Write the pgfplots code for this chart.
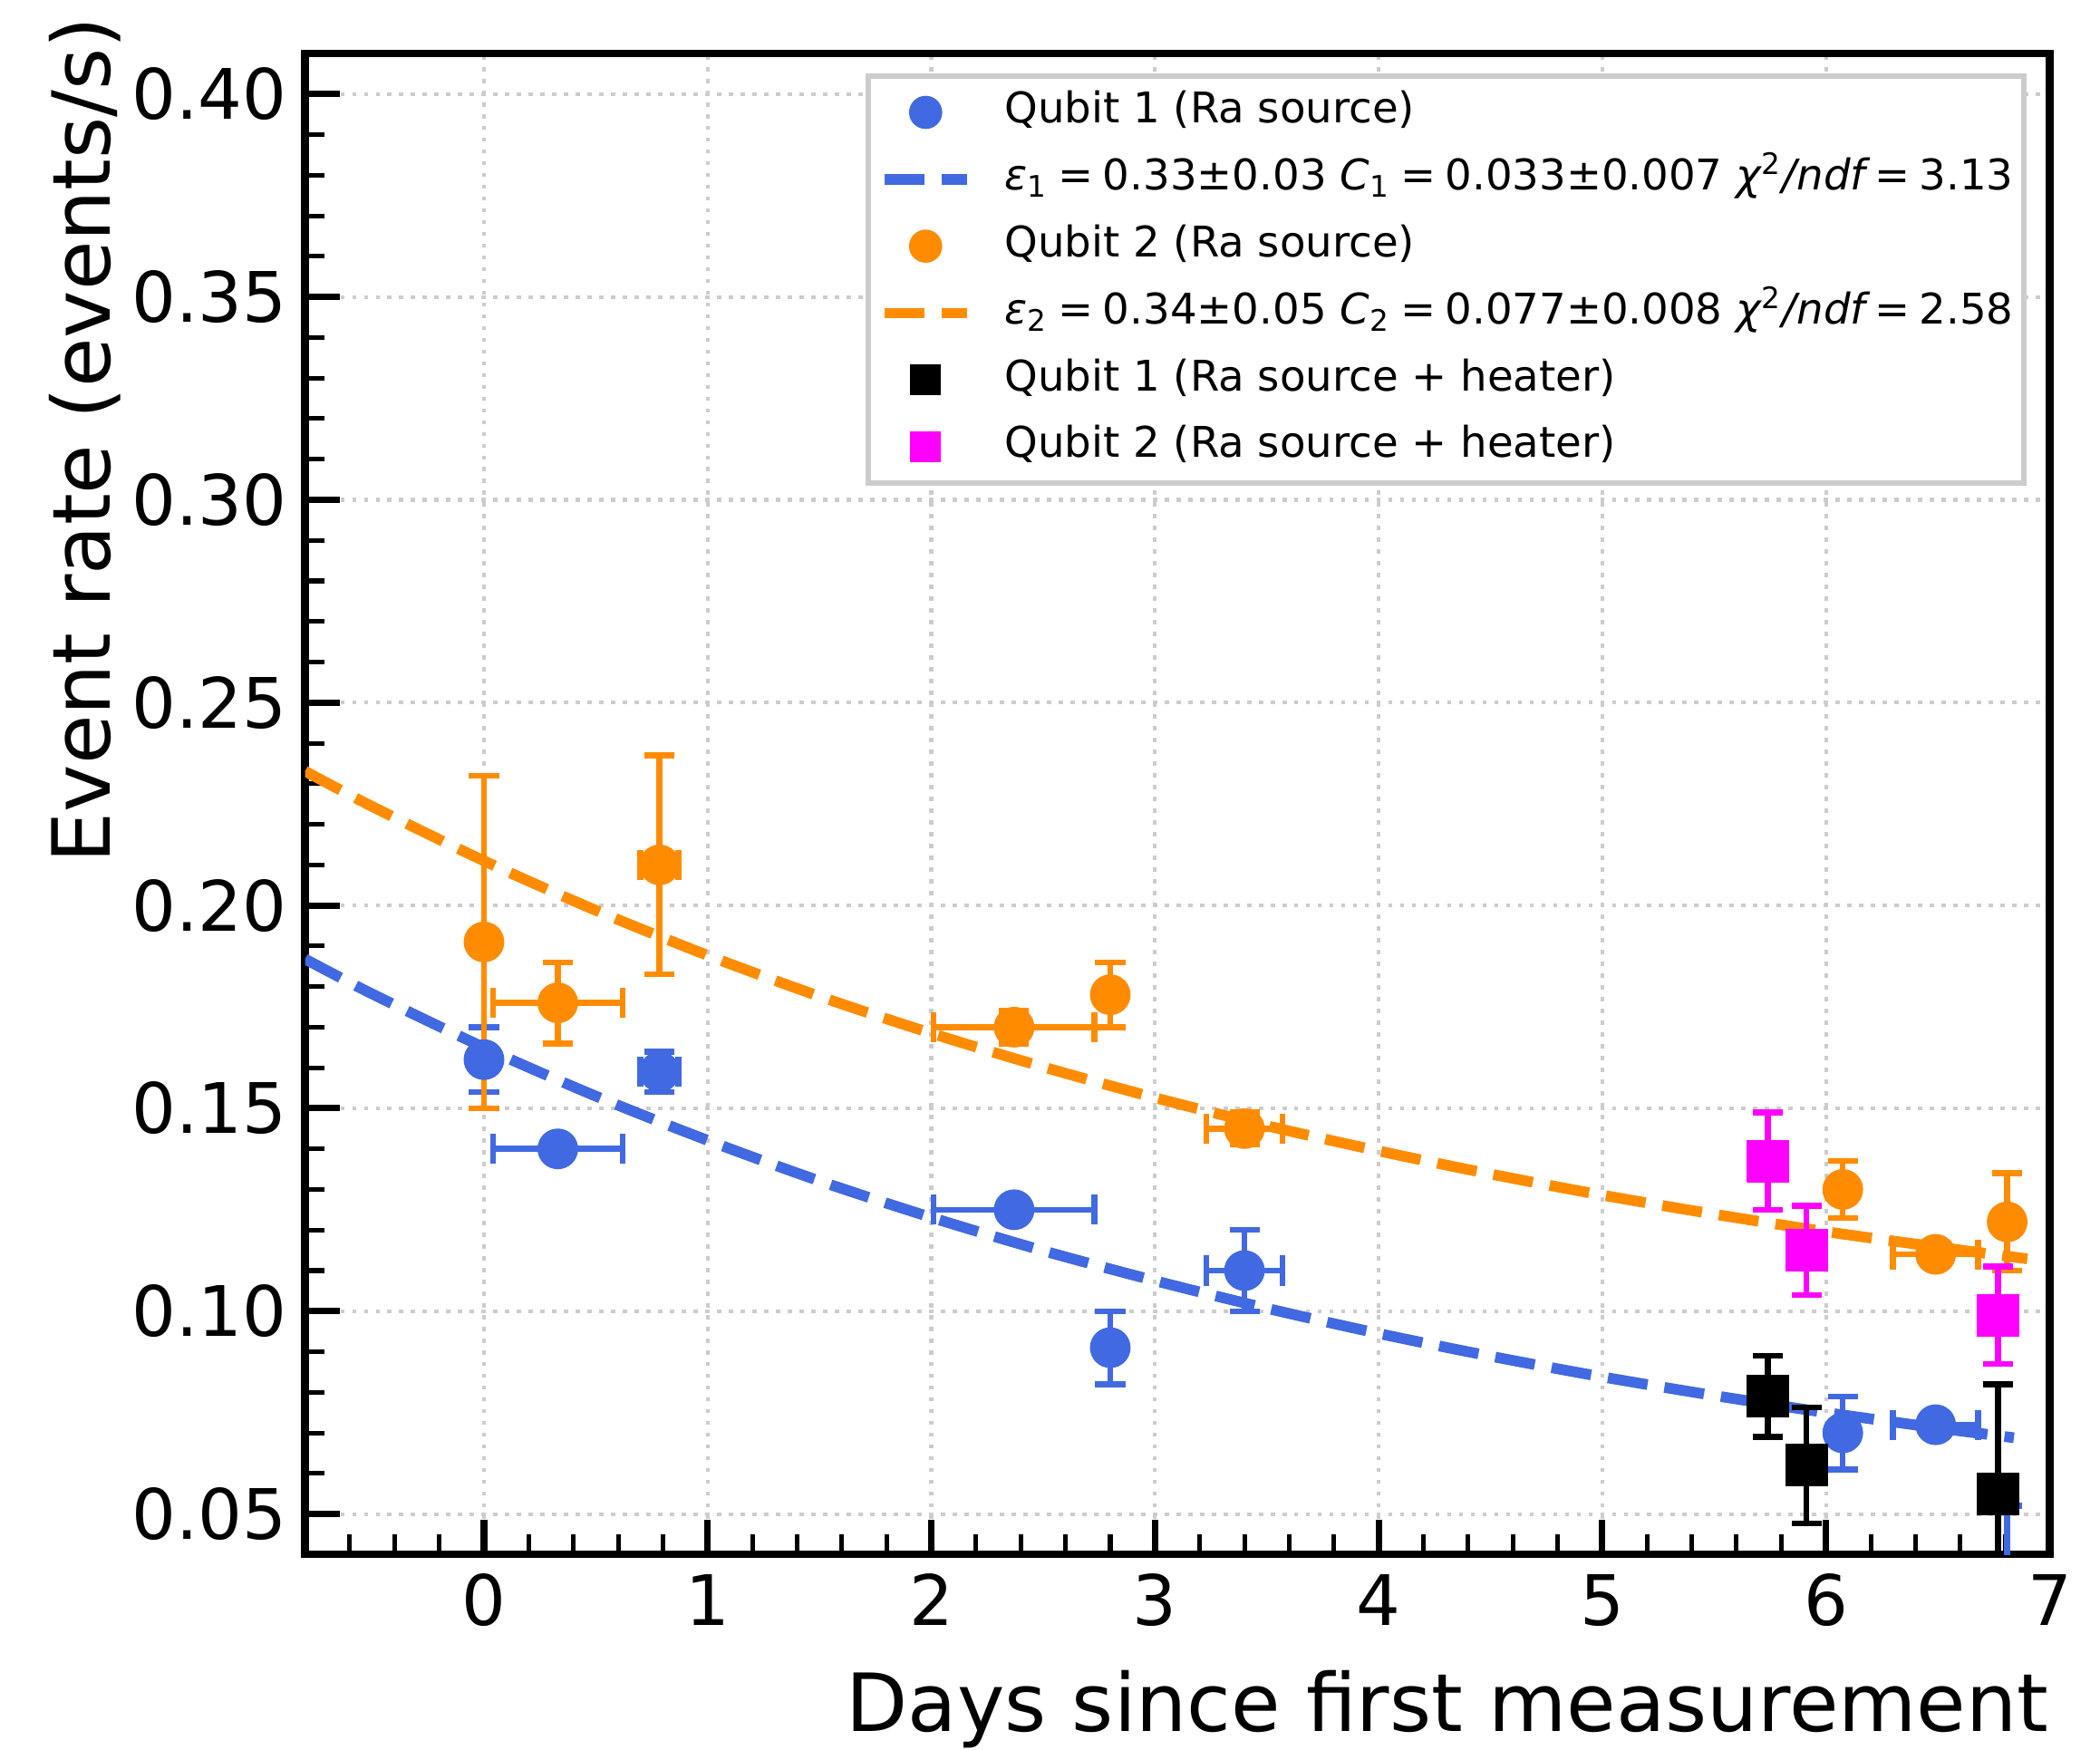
\documentclass[border=0pt]{standalone}
\usepackage{fontspec}
\setmainfont{DejaVu Sans}
\usepackage{pgfplots}
\usepackage{pgfplotstable}
\pgfplotsset{compat=1.18}

\definecolor{qblue}{HTML}{4169E1}
\definecolor{qorange}{HTML}{FF8C00}
\definecolor{qmag}{HTML}{FF00FF}

% qubit 1, Ra source
\pgfplotstableread{
x      ex     y      ey
0      0      0.162  0.008
0.33   0.29   0.140  0
0.785  0.085  0.159  0.005
2.37   0.36   0.125  0
2.80   0      0.091  0.009
3.40   0.17   0.110  0.010
6.075  0      0.070  0.009
6.49   0.19   0.072  0
6.81   0      0.030  0.022
}\qoneRa

% qubit 2, Ra source
\pgfplotstableread{
x      ex     y      ey
0      0      0.191  0.041
0.33   0.29   0.176  0.010
0.785  0.085  0.210  0.027
2.37   0.36   0.170  0.004
2.80   0      0.178  0.008
3.40   0.17   0.145  0.004
6.075  0      0.130  0.007
6.49   0.19   0.114  0
6.81   0      0.122  0.012
}\qtwoRa

% Ra source + heater
\pgfplotstableread{
x      y      ey
5.74   0.079  0.010
5.913  0.062  0.0143
6.77   0.055  0.027
}\qoneHeat

\pgfplotstableread{
x      y      ey
5.74   0.137  0.012
5.913  0.115  0.011
6.77   0.099  0.012
}\qtwoHeat

\newcommand{\eqs}{\hspace{0.22em}=\hspace{0.22em}}

\begin{document}
\begin{tikzpicture}
\begin{axis}[
  scale only axis,
  width=326pt, height=280.5pt,
  xmin=-0.8, xmax=7, ymin=0.04, ymax=0.41,
  xtick={0,1,2,3,4,5,6,7},
  ytick={0.05,0.1,0.15,0.2,0.25,0.3,0.35,0.4},
  minor xtick={-0.6,-0.4,...,6.8},
  minor ytick={0.04,0.05,...,0.41},
  scaled y ticks=false,
  tick align=inside, xtick pos=bottom, ytick pos=left,
  major tick length=6.5pt, minor tick length=3.7pt,
  major tick style={line width=1.2pt, black},
  minor tick style={line width=0.85pt, black},
  axis line style={line width=1.4pt},
  grid=major,
  major grid style={gray!40, line width=0.7pt, dash pattern=on 0.8pt off 1.4pt},
  /pgf/number format/assume math mode=true,
  ticklabel style={font=\fontsize{13}{15}\selectfont},
  xticklabel style={anchor=base, inner sep=0pt, yshift=-13.25pt},
  yticklabel style={anchor=east, inner sep=0pt, xshift=-3.25pt,
    /pgf/number format/fixed, /pgf/number format/fixed zerofill,
    /pgf/number format/precision=2},
  xlabel={Days since first measurement},
  ylabel={Event rate (events/s)},
  every axis x label/.style={at={([yshift=-33pt]rel axis cs:1,0)}, anchor=base east,
    inner sep=0pt, font=\fontsize{15}{18}\selectfont},
  every axis y label/.style={at={([xshift=-36.5pt]rel axis cs:0,1.025)}, rotate=90, anchor=base east,
    inner sep=0pt, font=\fontsize{15}{18}\selectfont},
  legend style={at={([xshift=-4.25pt,yshift=-3.75pt]rel axis cs:1,1)}, anchor=north east,
    draw=gray!40, line width=1pt, fill=white,
    inner xsep=2pt, inner ysep=2.75pt, row sep=4.5pt, column sep=6pt,
    font=\fontsize{7.9}{9.5}\selectfont,
    nodes={inner sep=0pt, text height=6pt, text depth=2pt}},
  legend cell align=left,
  legend image code/.code={
    \path (0pt,0pt) (15.5pt,0pt);
    \draw[mark repeat=2, mark phase=2, #1] plot coordinates {(0pt,0pt) (7.75pt,0pt) (15.5pt,0pt)};},
  error bars/error bar style={line width=1.1pt},
  error bars/error mark options={rotate=90, mark size=2.8pt, line width=1.1pt},
]

\addlegendimage{only marks, mark=*, qblue, mark size=2.9pt, mark options={line width=0.4pt}}
\addlegendentry{Qubit 1 (Ra source)}
\addlegendimage{qblue, line width=2pt, dash pattern=on 7.5pt off 3.2pt}
\addlegendentry{{\itshape ε}\textsubscript{1}\eqs 0.33±0.03 {\itshape C}\textsubscript{1}\eqs 0.033±0.007 {\itshape χ}\textsuperscript{2}{\itshape /ndf}\eqs 3.13}
\addlegendimage{only marks, mark=*, qorange, mark size=2.9pt, mark options={line width=0.4pt}}
\addlegendentry{Qubit 2 (Ra source)}
\addlegendimage{qorange, line width=2pt, dash pattern=on 7.5pt off 3.2pt}
\addlegendentry{{\itshape ε}\textsubscript{2}\eqs 0.34±0.05 {\itshape C}\textsubscript{2}\eqs 0.077±0.008 {\itshape χ}\textsuperscript{2}{\itshape /ndf}\eqs 2.58}
\addlegendimage{only marks, mark=square*, black, mark size=2.7pt, mark options={line width=0.4pt}}
\addlegendentry{Qubit 1 (Ra source + heater)}
\addlegendimage{only marks, mark=square*, qmag, mark size=2.7pt, mark options={line width=0.4pt}}
\addlegendentry{Qubit 2 (Ra source + heater)}

% fitted decay curves
\addplot[forget plot, qblue, line width=2pt, dash pattern=on 7.5pt off 3.2pt, smooth] coordinates {
 (-0.8,0.1868) (-0.5,0.1782) (0,0.1650) (0.5,0.1530) (1,0.1421) (1.5,0.1321)
 (2,0.1231) (2.5,0.1149) (3,0.1075) (3.5,0.1007) (4,0.0945) (4.5,0.0889)
 (5,0.0838) (5.5,0.0792) (6,0.0750) (6.5,0.0712) (6.84,0.0688)};
\addplot[forget plot, qorange, line width=2pt, dash pattern=on 7.5pt off 3.2pt, smooth] coordinates {
 (-0.8,0.2331) (-0.5,0.2244) (0,0.2110) (0.5,0.1988) (1,0.1877) (1.5,0.1776)
 (2,0.1685) (2.5,0.1602) (3,0.1526) (3.5,0.1457) (4,0.1395) (4.5,0.1338)
 (5,0.1286) (5.5,0.1239) (6,0.1196) (6.5,0.1158) (6.9,0.1129)};

% measurements
\addplot[forget plot, only marks, mark=*, qblue, mark size=3.6pt, mark options={line width=0.4pt},
  error bars/.cd, x dir=both, x explicit, y dir=both, y explicit]
  table[x=x, y=y, x error=ex, y error=ey] {\qoneRa};
\addplot[forget plot, only marks, mark=*, qorange, mark size=3.6pt, mark options={line width=0.4pt},
  error bars/.cd, x dir=both, x explicit, y dir=both, y explicit]
  table[x=x, y=y, x error=ex, y error=ey] {\qtwoRa};
\addplot[forget plot, only marks, mark=square*, black, mark size=3.8pt, mark options={line width=0.4pt},
  error bars/.cd, y dir=both, y explicit]
  table[x=x, y=y, y error=ey] {\qoneHeat};
\addplot[forget plot, only marks, mark=square*, qmag, mark size=3.8pt, mark options={line width=0.4pt},
  error bars/.cd, y dir=both, y explicit]
  table[x=x, y=y, y error=ey] {\qtwoHeat};

\end{axis}
\path ([shift={(-57pt,-36.5pt)}]current axis.south west) rectangle ([shift={(9.4pt,10pt)}]current axis.north east);
\end{tikzpicture}
\end{document}
